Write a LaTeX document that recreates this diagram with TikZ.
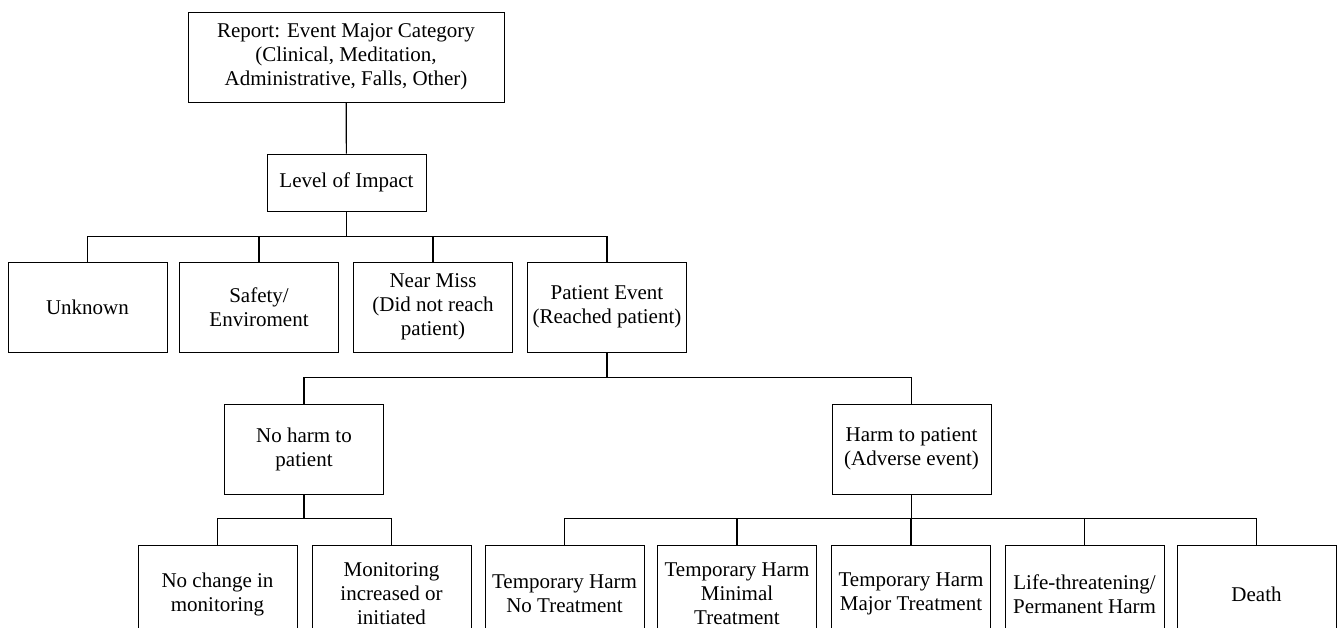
\documentclass[tikz,border=0pt]{standalone}
\usepackage{fontspec}
\setmainfont{Liberation Serif}

\tikzset{
  box/.style={draw, line width=0.9pt, shape=rectangle, align=center, inner sep=2pt,
    minimum width=159pt, minimum height=90pt, font=\fontsize{21}{24}\selectfont},
  leaf/.style={box, minimum height=98pt},
  link/.style={line width=1.2pt},
}

\begin{document}
\begin{tikzpicture}[x=1pt, y=-1pt]
\path[use as bounding box, clip] (0,0) rectangle (1337,627);
% top of the tree
\node[box, minimum width=316pt] (report) at (346,57) {Report: Event Major Category\\(Clinical, Meditation,\\Administrative, Falls, Other)};
\node[box, minimum height=57pt] (impact) at (346.5,182.5) {Level of Impact};
% level of impact
\node[box] (unknown) at (87.5,307) {Unknown};
\node[box] (safety) at (259,307) {Safety/\\Enviroment};
\node[box] (nearmiss) at (433,307) {Near Miss\\(Did not reach\\patient)};
\node[box] (patient) at (607,307) {Patient Event\\(Reached patient)};
% patient event
\node[box] (noharm) at (304,449) {No harm to\\patient};
\node[box] (harm) at (911.5,449) {Harm to patient\\(Adverse event)};
% outcomes
\node[leaf] (nochange) at (217.5,594) {No change in\\monitoring};
\node[leaf] (monitor) at (391.5,594) {Monitoring\\increased or\\initiated};
\node[leaf] (tempno) at (564.5,594) {Temporary Harm\\No Treatment};
\node[leaf] (tempmin) at (737,594) {Temporary Harm\\Minimal\\Treatment};
\node[leaf] (tempmajor) at (911,594) {Temporary Harm\\Major Treatment};
\node[leaf] (lifethreat) at (1084.5,594) {Life-threatening/\\Permanent Harm};
\node[leaf] (death) at (1256.5,594) {Death};

\draw[link] (report) -- (impact);
\foreach \c in {unknown,safety,nearmiss,patient}
  \draw[link] (impact.south) -- ++(0,25) -| (\c.north);
\foreach \c in {noharm,harm}
  \draw[link] (patient.south) -- ++(0,25) -| (\c.north);
\foreach \c in {nochange,monitor}
  \draw[link] (noharm.south) -- ++(0,24) -| (\c.north);
\foreach \c in {tempno,tempmin,tempmajor,lifethreat,death}
  \draw[link] (harm.south) -- ++(0,24) -| (\c.north);
\end{tikzpicture}
\end{document}
